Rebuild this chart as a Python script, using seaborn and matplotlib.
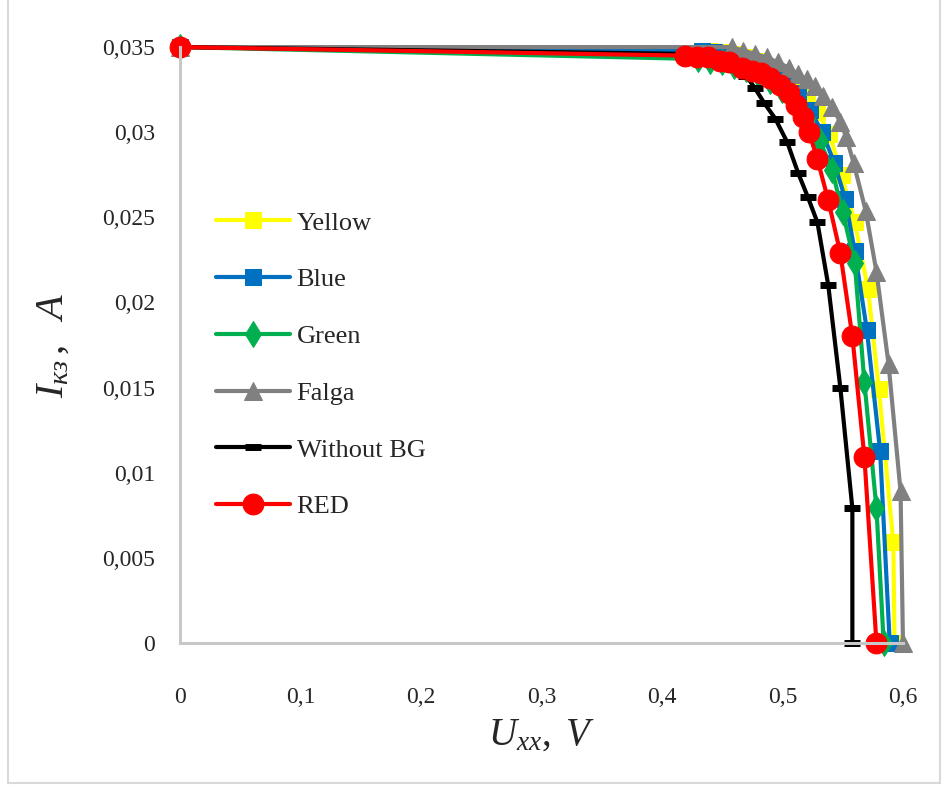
import matplotlib
matplotlib.use('Agg')
import matplotlib.pyplot as plt
import seaborn as sns
import pandas as pd
from matplotlib.ticker import FuncFormatter
from matplotlib.lines import Line2D

# --- data (U in V, I in A) ---
series = ['Yellow', 'Blue', 'Green', 'Falga', 'Without BG', 'RED']

u_yellow = [0, 0.440, 0.450, 0.460, 0.470, 0.480, 0.490, 0.500, 0.510, 0.520, 0.529, 0.539, 0.549, 0.560, 0.571, 0.580, 0.592, 0.593]
i_yellow = [0.035, 0.0348, 0.0347, 0.0346, 0.0344, 0.0342, 0.0338, 0.0334, 0.0328, 0.0321, 0.0312, 0.0299, 0.0275, 0.0247, 0.0208, 0.0149, 0.0059, 0.0]

u_blue = [0, 0.433, 0.443, 0.453, 0.463, 0.473, 0.483, 0.493, 0.503, 0.513, 0.523, 0.533, 0.543, 0.552, 0.560, 0.570, 0.581, 0.589]
i_blue = [0.035, 0.0348, 0.0347, 0.0346, 0.0345, 0.0343, 0.0340, 0.0336, 0.0330, 0.0323, 0.0313, 0.0300, 0.0282, 0.0261, 0.0230, 0.0184, 0.0113, 0.0]

u_green = [0, 0.430, 0.440, 0.450, 0.460, 0.470, 0.480, 0.490, 0.500, 0.510, 0.520, 0.531, 0.541, 0.550, 0.560, 0.568, 0.578, 0.584]
i_green = [0.035, 0.0343, 0.0342, 0.0341, 0.0339, 0.0337, 0.0334, 0.0330, 0.0325, 0.0318, 0.0308, 0.0295, 0.0278, 0.0253, 0.0223, 0.0153, 0.0079, 0.0]

u_falga = [0, 0.458, 0.467, 0.477, 0.487, 0.496, 0.505, 0.513, 0.520, 0.527, 0.534, 0.541, 0.548, 0.553, 0.559, 0.569, 0.578, 0.588, 0.598, 0.600]
i_falga = [0.035, 0.0350, 0.0348, 0.0346, 0.0344, 0.0341, 0.0338, 0.0334, 0.0331, 0.0327, 0.0321, 0.0315, 0.0306, 0.0297, 0.0282, 0.0254, 0.0218, 0.0164, 0.0089, 0.0]

u_nobg = [0, 0.420, 0.430, 0.440, 0.450, 0.460, 0.470, 0.477, 0.485, 0.494, 0.504, 0.513, 0.521, 0.529, 0.538, 0.548, 0.558, 0.558]
i_nobg = [0.035, 0.0346, 0.0345, 0.0343, 0.0340, 0.0337, 0.0333, 0.0326, 0.0317, 0.0308, 0.0294, 0.0276, 0.0262, 0.0247, 0.0210, 0.0150, 0.0079, 0.0]

u_red = [0, 0.419, 0.429, 0.438, 0.448, 0.456, 0.466, 0.475, 0.482, 0.490, 0.498, 0.505, 0.511, 0.517, 0.522, 0.529, 0.538, 0.548, 0.558, 0.568, 0.578]
i_red = [0.035, 0.0345, 0.0344, 0.0344, 0.0342, 0.0341, 0.0338, 0.0336, 0.0335, 0.0332, 0.0328, 0.0323, 0.0316, 0.0309, 0.0300, 0.0284, 0.0260, 0.0229, 0.0180, 0.0109, 0.0]

x_ticks = [0, 0.1, 0.2, 0.3, 0.4, 0.5, 0.6]
y_ticks = [0, 0.005, 0.01, 0.015, 0.02, 0.025, 0.03, 0.035]

frames = []
for name, u, i in zip(series,
                      [u_yellow, u_blue, u_green, u_falga, u_nobg, u_red],
                      [i_yellow, i_blue, i_green, i_falga, i_nobg, i_red]):
    frames.append(pd.DataFrame({'U': u, 'I': i, 'series': name}))
df = pd.concat(frames, ignore_index=True)

colors = {'Yellow': '#FFFF00', 'Blue': '#0070C0', 'Green': '#00B050',
          'Falga': '#808080', 'Without BG': '#000000', 'RED': '#FF0000'}
styles = {'Yellow': dict(marker='s', markersize=11),
          'Blue': dict(marker='s', markersize=11),
          'Green': dict(marker='d', markersize=13),
          'Falga': dict(marker='^', markersize=13),
          'Without BG': dict(marker='_', markersize=12, markeredgewidth=5),
          'RED': dict(marker='o', markersize=15)}

sns.set_style('white')
plt.rcParams['font.family'] = ['Liberation Serif', 'DejaVu Serif']
plt.rcParams['mathtext.fontset'] = 'custom'
plt.rcParams['mathtext.rm'] = 'Liberation Serif'
plt.rcParams['mathtext.it'] = 'Liberation Serif:italic'

fig = plt.figure(figsize=(9.48, 7.85), dpi=100)
ax = fig.add_axes([0.190, 0.181, 0.7625, 0.759])

for name in series:
    sub = df[df['series'] == name]
    sns.lineplot(data=sub, x='U', y='I', ax=ax, color=colors[name], label=name,
                 sort=False, estimator=None, linewidth=3, clip_on=False,
                 markeredgecolor=colors[name], **styles[name])

ax.set_xlim(0, 0.6)
ax.set_ylim(0, 0.035)
ax.set_xticks(x_ticks)
ax.set_yticks(y_ticks)
fmt = FuncFormatter(lambda v, p: ('%g' % round(v, 4)).replace('.', ','))
ax.xaxis.set_major_formatter(fmt)
ax.yaxis.set_major_formatter(fmt)
ax.tick_params(axis='x', length=0, pad=32, labelsize=17)
ax.tick_params(axis='y', length=0, pad=18, labelsize=17)

for s in ['top', 'right']:
    ax.spines[s].set_visible(False)
for s in ['left', 'bottom']:
    ax.spines[s].set_color('#c8c8c8')
    ax.spines[s].set_linewidth(2.2)
ax.grid(False)

ax.set_xlabel(r'$U_{хх},\ V$', fontsize=28, labelpad=6)
ax.set_ylabel(r'$I_{кз}\,,\ \ A$', fontsize=29, labelpad=22)

leg = ax.legend(loc='upper left', bbox_to_anchor=(0.228, 0.731),
                bbox_transform=fig.transFigure, frameon=False, fontsize=19,
                handlelength=2.8, handletextpad=0.25, labelspacing=1.26,
                borderpad=0, borderaxespad=0, numpoints=1)

# light frame around the picture
fig.add_artist(Line2D([0.008, 0.008], [0.003, 1.0], color='#d9d9d9', lw=1.5))
fig.add_artist(Line2D([0.008, 0.992], [0.003, 0.003], color='#d9d9d9', lw=1.5))
fig.add_artist(Line2D([0.992, 0.992], [0.003, 1.0], color='#d9d9d9', lw=1.5))

fig.savefig('out.png', dpi=100)
